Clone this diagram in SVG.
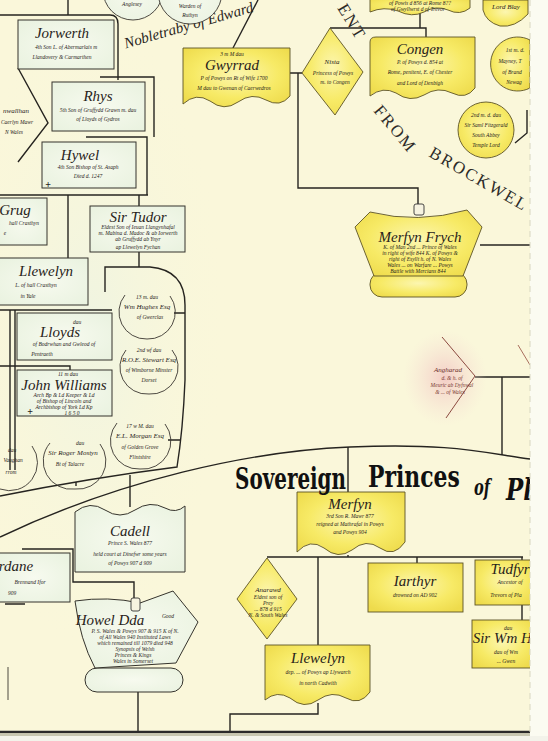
<svg xmlns="http://www.w3.org/2000/svg" width="548" height="741" viewBox="0 0 548 741">
<defs>
<radialGradient id="yel" cx="50%" cy="45%" r="65%">
<stop offset="0" stop-color="#fcf6b0"/>
<stop offset="0.6" stop-color="#f7ea66"/>
<stop offset="1" stop-color="#eedb4c"/>
</radialGradient>
<radialGradient id="pink" cx="50%" cy="50%" r="50%">
<stop offset="0" stop-color="#f3c8c4" stop-opacity="0.9"/>
<stop offset="1" stop-color="#f6e0d4" stop-opacity="0"/>
</radialGradient>
<radialGradient id="mint" cx="50%" cy="50%" r="70%">
<stop offset="0" stop-color="#f7faef"/>
<stop offset="1" stop-color="#e9f2df"/>
</radialGradient>
<radialGradient id="bgmint" cx="50%" cy="50%" r="50%">
<stop offset="0" stop-color="#eef4e2" stop-opacity="0.9"/>
<stop offset="1" stop-color="#faf7da" stop-opacity="0"/>
</radialGradient>
<style>
.ln{fill:none;stroke:#262420;stroke-width:1.4}
.thin{fill:none;stroke:#3a3630;stroke-width:0.9}
.bx{fill:url(#mint);stroke:#35332c;stroke-width:1}
.y{fill:url(#yel);stroke:#5c5326;stroke-width:0.9}
.c{fill:url(#mint);stroke:#3a3630;stroke-width:0.9}
.cy{fill:url(#yel);stroke:#5c5326;stroke-width:0.9}
text{font-family:"Liberation Serif","DejaVu Serif",serif;fill:#28231a;text-anchor:middle}
.nm{font-style:italic;font-size:15px}
.s{font-style:italic;font-size:5.5px}
.m{font-style:italic;font-size:7px}
.bl{font-family:"DejaVu Serif","Liberation Serif",serif;font-weight:bold;text-anchor:start;fill:#111}
.cap{font-size:17px;letter-spacing:2px;text-anchor:start;fill:#2d2b28}
</style>
</defs>
<rect x="0" y="0" width="548" height="741" fill="#faf7da"/>
<ellipse cx="90" cy="330" rx="140" ry="330" fill="url(#bgmint)"/>

<g id="connectors">
<path class="ln" d="M68,0 V15"/>
<path class="ln" d="M0,15 H110 Q118,15 118,24 V80"/>
<path class="ln" d="M100,77 H154 V137"/>
<path class="ln" d="M86,137 H147 V195"/>
<path class="ln" d="M0,195 H148"/>
<path class="ln" d="M18,68 L48,123 L18,162"/>
<path class="ln" d="M68,195 V258"/>
<path class="ln" d="M139,195 V206 M139,252 V267"/>
<path class="ln" d="M105,292 V267 H150 Q185,270 185,305 V380 Q183,430 177,467 Q90,478 0,496"/>
<path class="ln" d="M174,313 H185 M168,440 H181 M76,486 V482"/>
<path class="ln" d="M0,310 H112 M10,310 V470 M15,310 V470 M0,366 H70 V372"/>
<path class="ln" d="M0,537 C120,480 250,451 350,447 S480,452 530,459"/>
<path class="ln" d="M130,475 V507"/>
<path class="ln" d="M73,560 V582 H134 V598"/>
<path class="ln" d="M22,549 H73 V560 M5,604 H25"/>
<path class="thin" d="M8,667 V700"/>
<path class="ln" d="M138,692 V732"/>
<path class="ln" d="M233,48 L258,0"/>
<path class="ln" d="M290,73 H302 M298,73 V188 H418 V205"/>
<path class="ln" d="M420,13 V28 M330,28 H426 V37"/>
<path class="ln" d="M480,245 H530"/>
<path class="ln" d="M475,377 H530 M502,377 V455"/>
<path class="ln" d="M348,447 V492"/>
<path class="ln" d="M348,555 V557 M267,557 H523 M318,557 V645 M318,703 V714 H230 V732"/>
<path class="ln" d="M417,557 V563 M522,557 V560 M522,605 V620"/>
<path class="ln" d="M515,143 L527,133 V110"/>
<path fill="none" stroke="#2a2a2a" stroke-width="2.4" d="M0,732 H548"/>
<path fill="none" stroke="#8a8a80" stroke-width="1.5" d="M0,735 H548" opacity="0.6"/>
</g>

<g id="title-descent">
<text class="cap" transform="translate(337,8) rotate(59)">ENT</text>
<text class="cap" transform="translate(373,111) rotate(50)">FROM</text>
<text class="cap" transform="translate(428,156) rotate(30)">BROCKWEL</text>
</g>

<g id="title-noble">
<text class="nm" font-size="17" transform="translate(190,30) rotate(-16)">Nobletraby of Edward</text>
</g>

<g id="anglesey">
<circle class="c" cx="133" cy="-10" r="30"/>
<text class="s" x="132" y="6">Anglesey</text>
</g>
<g id="warden">
<circle class="c" cx="190" cy="-8" r="32"/>
<text class="s" x="190" y="8">Warden of</text>
<text class="s" x="190" y="17">Ruthyn</text>
</g>

<g id="jorwerth">
<rect class="bx" x="18" y="20" width="96" height="49"/>
<text class="nm" x="62" y="38">Jorwerth</text>
<text class="s" x="66" y="49">4th Son L. of Abermarlais m</text>
<text class="s" x="62" y="59">Llandovery &amp; Carmarthen</text>
</g>
<g id="nwallhan">
<text class="m" x="16" y="113">nwallhan</text>
<text class="s" x="17" y="124" font-size="5">Caerlyn Mawr</text>
<text class="s" x="14" y="134">N Wales</text>
</g>
<g id="rhys">
<rect class="bx" x="52" y="82" width="93" height="49"/>
<text class="nm" x="98" y="101">Rhys</text>
<text class="s" x="98" y="112">5th Son of Gruffydd Grawn m. dau</text>
<text class="s" x="98" y="121">of Lloyds of Gydros</text>
</g>
<g id="hywel">
<rect class="bx" x="42" y="142" width="94" height="46"/>
<text class="nm" x="80" y="160">Hywel</text>
<text class="s" x="88" y="169">4th Son Bishop of St. Asaph</text>
<text class="s" x="88" y="178">Died d. 1247</text>
<text x="48" y="188" font-size="10" font-weight="bold">+</text>
</g>
<g id="grug">
<rect class="bx" x="-2" y="198" width="49" height="47"/>
<text class="nm" x="15" y="215">Grug</text>
<text class="s" x="24" y="225">hall Crasthyn</text>
<text class="s" x="5" y="235">e</text>
</g>
<g id="sirtudor">
<rect class="bx" x="90" y="206" width="95" height="46"/>
<text class="nm" x="138" y="222">Sir Tudor</text>
<text class="s" x="138" y="229">Eldest Son of Ieuan Llangynhafal</text>
<text class="s" x="138" y="235">m. Mabina d. Madoc &amp; ab Iorwerth</text>
<text class="s" x="138" y="241">ab Gruffydd ab Ynyr</text>
<text class="s" x="138" y="249">ap Llewelyn Fychan</text>
</g>
<g id="llewelyn-yale">
<rect class="bx" x="-2" y="258" width="90" height="47"/>
<text class="nm" x="46" y="276">Llewelyn</text>
<text class="s" x="36" y="287">L. of hall Crasthyn</text>
<text class="s" x="28" y="298">in Yale</text>
</g>
<g id="lloyds">
<rect class="bx" x="17" y="313" width="95" height="47"/>
<text class="s" x="77" y="324">dau</text>
<text class="nm" x="60" y="337" font-size="13">Lloyds</text>
<text class="s" x="64" y="346">of Bodrwhan and Gwleod of</text>
<text class="s" x="42" y="356">Pentraeth</text>
</g>
<g id="johnwilliams">
<rect class="bx" x="17" y="370" width="95" height="46"/>
<text class="s" x="68" y="376" font-size="5">11 m dau</text>
<text class="nm" x="64" y="390" font-size="14">John Williams</text>
<text class="s" x="64" y="397">Arch Bp &amp; Ld Keeper &amp; Ld</text>
<text class="s" x="64" y="403">of Bishop of Lincoln and</text>
<text class="s" x="64" y="409">Archbishop of York Ld Kp</text>
<text x="30" y="415" font-size="10" font-weight="bold">+</text>
<text class="s" x="72" y="414.5" font-size="5">1 6 5 0</text>
</g>
<g id="wmhughes">
<path class="thin" d="M125,295 A27,27 0 0 0 147,339 A27,27 0 0 0 170,296" fill="none"/>
<text class="s" x="147" y="299">13 m. dau</text>
<text class="m" x="147" y="309">Wm Hughes Esq</text>
<text class="s" x="150" y="319">of Gwerclas</text>
</g>
<g id="stewart">
<path class="thin" d="M126,350 A27,27 0 0 0 149,394 A27,27 0 0 0 172,350" fill="none"/>
<text class="s" x="149" y="352">2nd wf dau</text>
<text class="m" x="149" y="362">R.O.E. Stewart Esq</text>
<text class="s" x="149" y="372">of Wimborne Minster</text>
<text class="s" x="149" y="382">Dorset</text>
</g>
<g id="morgan">
<path class="thin" d="M117,423 A28,28 0 0 0 140,469 A28,28 0 0 0 165,424" fill="none"/>
<text class="s" x="140" y="428">17 w M. dau</text>
<text class="m" x="140" y="438">E.L. Morgan Esq</text>
<text class="s" x="140" y="449">of Golden Grove</text>
<text class="s" x="140" y="459">Flintshire</text>
</g>
<g id="mostyn">
<path class="thin" d="M50,443 A28,28 0 0 0 75,489 A28,28 0 0 0 100,444" fill="none"/>
<text class="s" x="80" y="445">dau</text>
<text class="m" x="73" y="455">Sir Roger Mostyn</text>
<text class="s" x="70" y="466">Bt of Talacre</text>
</g>
<g id="vaughan">
<path class="thin" d="M0,489 A28,28 0 0 0 32,446" fill="none"/>
<text class="s" x="12" y="452">dau</text>
<text class="s" x="13" y="462">Vaughan</text>
<text class="s" x="11" y="474">rrom</text>
</g>

<g id="gwyrrad">
<path class="y" d="M183,48 H290 V96 Q280,108 266,100 Q252,92 238,102 Q224,112 210,101 Q196,92 183,104 Z"/>
<text class="s" x="232" y="56">3 m M dau</text>
<text class="nm" x="232" y="70">Gwyrrad</text>
<text class="s" x="234" y="80">P of Powys on Rt of Wife 1700</text>
<text class="s" x="234" y="90">M dau to Gwenan of Caerwedros</text>
</g>
<g id="nista">
<path class="y" d="M330,28 L363,72 L335,115 L302,73 Z"/>
<text class="m" x="332" y="64" font-size="10">Nista</text>
<text class="s" x="333" y="75">Princess of Powys</text>
<text class="s" x="335" y="84">m. to Congen</text>
</g>
<g id="topbox">
<path class="y" d="M370,-2 H470 V8 Q460,16 448,10 Q436,5 424,12 Q412,18 398,11 Q384,6 370,12 Z"/>
<text class="s" x="420" y="4.5" font-size="5">of Powis d 856 at Rome 8??</text>
<text class="s" x="418" y="10.5" font-size="5">of Gwyllwrst d of Trevor</text>
</g>
<g id="lordbl">
<path class="cy" d="M483,0 H528 V14 Q515,28 500,26 Q486,22 483,10 Z"/>
<text class="m" x="506" y="9">Lord Blay</text>
</g>
<g id="congen">
<path class="y" d="M370,42 Q370,37 376,37 H475 V88 Q466,100 452,93 Q438,86 424,95 Q410,103 396,93 Q383,86 370,96 Z"/>
<text class="nm" x="420" y="54">Congen</text>
<text class="s" x="420" y="64">P. of Powys d. 854 at</text>
<text class="s" x="420" y="74">Rome, penitent, E. of Chester</text>
<text class="s" x="420" y="85">and Lord of Denbigh</text>
</g>
<g id="brandon">
<path class="cy" d="M530,40 A27,27 0 1 0 530,88 Z"/>
<text class="s" x="515" y="52">1st m. d.</text>
<text class="s" x="510" y="63">Mayney, T</text>
<text class="s" x="512" y="74">of Brand</text>
<text class="s" x="514" y="84">Newag</text>
</g>
<g id="fitzgerald">
<circle class="cy" cx="486" cy="130" r="28"/>
<text class="s" x="486" y="117" font-size="5">2nd m. d. dau</text>
<text class="s" x="486" y="127" font-size="5">Sir Saml Fitzgerald</text>
<text class="s" x="486" y="137" font-size="5">South Abbey</text>
<text class="s" x="486" y="147" font-size="5">Temple Lord</text>
</g>

<g id="merfynfrych">
<rect class="y" x="370" y="272" width="97" height="25" rx="12"/>
<path class="y" d="M355,227 L370,212 Q418,224 467,210 L482,227 L463,276 L374,276 Z"/>
<rect x="414" y="204" width="10" height="11" fill="#f6f3e0" stroke="#333" stroke-width="0.9" rx="2"/>
<text class="nm" x="420" y="242" font-size="14">Merfyn Frych</text>
<text class="s" x="420" y="249">K. of Man 2nd ... Prince of Wales</text>
<text class="s" x="420" y="255">in right of wife 844 K. of Powys &amp;</text>
<text class="s" x="420" y="261">right of Esyllt h. of N. Wales</text>
<text class="s" x="420" y="267">Wales ... on Warfare ... Powys</text>
<text class="s" x="418" y="273">Battle with Mercians 844</text>
</g>
<g id="angharad">
<ellipse cx="445" cy="378" rx="42" ry="48" fill="url(#pink)"/>
<path d="M442,337 L475,376 L446,418" fill="none" stroke="#8c4a40" stroke-width="1"/>
<path d="M518,345 L530,365" fill="none" stroke="#a06050" stroke-width="0.9"/>
<text class="m" x="448" y="372" style="fill:#6b2f2a">Angharad</text>
<text class="s" x="452" y="380" style="fill:#7a3a32">d. &amp; h. of</text>
<text class="s" x="452" y="387" style="fill:#7a3a32">Meuric ab Dyfnwal</text>
<text class="s" x="450" y="394" style="fill:#7a3a32">&amp; ... of Wales</text>
</g>

<g id="merfyn">
<path class="y" d="M297,492 H405 V542 Q394,558 380,548 Q366,538 352,550 Q338,560 324,548 Q310,538 297,552 Z"/>
<text class="nm" x="350" y="509" font-size="13">Merfyn</text>
<text class="s" x="350" y="518">3rd Son R. Mawr 877</text>
<text class="s" x="350" y="526">reigned at Mathrafal in Powys</text>
<text class="s" x="350" y="534">and Powys 904</text>
</g>

<g id="banner">
<text class="bl" font-size="30" textLength="150" lengthAdjust="spacingAndGlyphs" transform="translate(235,489) scale(0.74,1)">Sovereign</text>
<text class="bl" font-size="30" textLength="124" lengthAdjust="spacingAndGlyphs" transform="translate(368,487) scale(0.74,1)">Princes</text>
<text class="bl" font-size="22" font-style="italic" textLength="22" lengthAdjust="spacingAndGlyphs" transform="translate(474,495) scale(0.73,1)">of</text>
<text class="bl" font-size="30" font-style="italic" textLength="37" lengthAdjust="spacingAndGlyphs" transform="translate(506,500) scale(0.7,1)">Pl</text>
</g>

<g id="cadell">
<path class="bx" d="M75,572 V512 Q90,500 105,510 Q120,520 135,510 Q150,500 165,508 Q176,514 185,506 V572 Z"/>
<text class="nm" x="130" y="536">Cadell</text>
<text class="s" x="130" y="545">Prince S. Wales 877</text>
<text class="s" x="130" y="556">held court at Dinefwr some years</text>
<text class="s" x="130" y="565">of Powys 907 d 909</text>
</g>
<g id="idwal">
<rect class="bx" x="-2" y="553" width="72" height="49"/>
<text class="nm" x="16" y="571">rdane</text>
<text class="s" x="30" y="584">Brennand Ifor</text>
<text class="s" x="12" y="595">909</text>
</g>
<g id="howeldda">
<rect class="bx" x="85" y="668" width="98" height="24" rx="12"/>
<path class="bx" d="M75,601 Q108,596 140,603 L173,591 L198,622 L176,663 L95,668 Q80,640 75,601 Z"/>
<rect x="131" y="598" width="9" height="13" fill="#f6f3e0" stroke="#333" stroke-width="0.9" rx="2"/>
<text class="nm" x="110" y="625" font-size="16">Howel Dda</text>
<text class="s" x="168" y="618">Good</text>
<text class="s" x="135" y="633">P. S. Wales &amp; Powys 907 &amp; 915 K of N.</text>
<text class="s" x="135" y="639">of All Wales 940 Instituted Laws</text>
<text class="s" x="135" y="645">which remained till 1079 died 948</text>
<text class="s" x="135" y="651">Synopsis of Welsh</text>
<text class="s" x="133" y="657">Princes &amp; Kings</text>
<text class="s" x="133" y="663">Wales in Somerset</text>
</g>
<g id="anarawd">
<path class="y" d="M267,558 L297,599 L267,639 L237,599 Z"/>
<text class="m" x="268" y="592">Anarawd</text>
<text class="s" x="268" y="599">Eldest son of</text>
<text class="s" x="268" y="605">Prey</text>
<text class="s" x="268" y="611">... 878 d 915</text>
<text class="s" x="268" y="617">N. &amp; South Wales</text>
</g>
<g id="iarthyr">
<rect class="y" x="368" y="563" width="95" height="49"/>
<text class="nm" x="415" y="586" font-size="14">Iarthyr</text>
<text class="s" x="415" y="597">drowned on AD 902</text>
</g>
<g id="llewelyn-low">
<path class="y" d="M265,645 H370 V692 Q360,706 346,698 Q332,690 318,700 Q304,710 290,698 Q277,690 265,700 Z"/>
<text class="nm" x="318" y="663">Llewelyn</text>
<text class="s" x="318" y="674">dep. ... of Powys ap Llywarch</text>
<text class="s" x="318" y="685">in north Cadwith</text>
</g>
<g id="tudfyr">
<rect class="y" x="475" y="560" width="58" height="45"/>
<text class="nm" x="510" y="574" font-size="13">Tudfyr</text>
<text class="s" x="510" y="584">Ancestor of</text>
<text class="s" x="506" y="597">Trevors of Pla</text>
</g>
<g id="sirw">
<rect class="y" x="472" y="620" width="61" height="48"/>
<text class="s" x="508" y="630">dau</text>
<text class="nm" x="506" y="643" font-size="13">Sir Wm Ha</text>
<text class="s" x="506" y="654">dau of Wm</text>
<text class="s" x="506" y="663">... Gwen</text>
</g>

<g id="page-edge">
<rect x="530" y="0" width="18" height="741" fill="#fbfbf1"/>
<path d="M530,0 V741" stroke="#d8d6c0" stroke-width="1" stroke-dasharray="6,5"/>
<rect x="0" y="736" width="548" height="5" fill="#f3f3ea"/>
</g>
</svg>
